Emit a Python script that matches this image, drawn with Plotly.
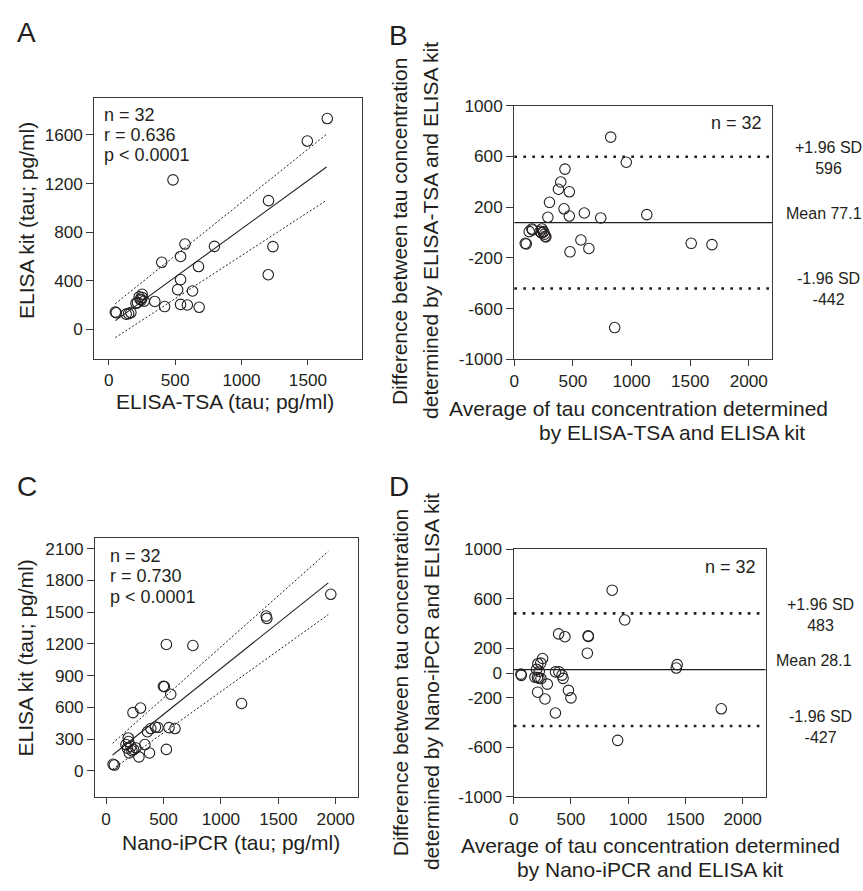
import plotly.graph_objects as go

W, H = 863, 891
FONT = "Liberation Sans, Arial, Helvetica, sans-serif"
TC = "#231f20"
LC = "#3a3a3a"

# ---------------- Panel A: ELISA-TSA vs ELISA kit ----------------
a_tsa = [50, 57, 132, 167, 217, 237, 252, 252, 267, 347, 421, 541, 592, 681, 519, 631,
         541, 676, 399, 541, 574, 796, 484, 1203, 1236, 1201, 1495, 1645, 230, 245, 205, 150]
a_kit = [142, 137, 126, 139, 220, 247, 289, 263, 233, 230, 188, 206, 201, 182, 327, 316,
         410, 517, 552, 600, 702, 683, 1230, 1059, 681, 450, 1549, 1734, 268, 240, 215, 130]
a_fit_x = [50, 1640]
a_fit_y = [72, 1335]
a_upper_y = [212, 1605]
a_lower_y = [-67, 1062]
a_stats = ["n = 32", "r = 0.636", "p < 0.0001"]
a_xticks = [0, 500, 1000, 1500]
a_yticks = [0, 400, 800, 1200, 1600]

# ---------------- Panel B: Bland-Altman ELISA-TSA / ELISA kit ----------------
b_avg = [822, 955, 856, 432, 396, 376, 469, 300, 424, 286, 469, 597, 737, 1130, 568, 636,
         475, 1509, 1686, 93, 102, 127, 150, 155, 235, 249, 257, 269, 230, 220, 246, 263]
b_diff = [751, 553, -750, 499, 397, 340, 320, 237, 186, 119, 129, 153, 114, 140, -60, -127,
          -153, -86, -96, -86, -91, 6, 27, 19, 27, 6, -14, -35, -3, 8, 1, -30]
b_mean = 77.1
b_upper = 596
b_lower = -442

# ---------------- Panel C: Nano-iPCR vs ELISA kit ----------------
c_ipcr = [1957, 1394, 1400, 525, 756, 1180, 499, 508, 563, 300, 234, 360, 390, 430, 452, 548,
          600, 525, 338, 378, 286, 193, 173, 202, 260, 216, 72, 61, 196, 240, 225, 185]
c_kit = [1669, 1463, 1441, 1195, 1185, 637, 800, 796, 724, 594, 551, 370, 400, 414, 410, 409,
         400, 203, 249, 169, 132, 311, 249, 169, 216, 231, 55, 62, 277, 200, 190, 215]
c_fit_x = [57, 1935]
c_fit_y = [150, 1777]
c_upper_y = [261, 2075]
c_lower_y = [15, 1477]
c_stats = ["n = 32", "r = 0.730", "p < 0.0001"]
c_xticks = [0, 500, 1000, 1500, 2000]
c_yticks = [0, 300, 600, 900, 1200, 1500, 1800, 2100]

# ---------------- Panel D: Bland-Altman Nano-iPCR / ELISA kit ----------------
d_avg = [1813, 1428, 1420, 860, 970, 908, 650, 652, 643, 447, 392, 365, 395, 422, 431, 478,
         500, 364, 293, 273, 209, 252, 211, 185, 238, 223, 63, 66, 236, 220, 207, 200]
d_diff = [-288, 69, 41, 670, 429, -543, 301, 296, 161, 294, 317, 10, 10, -16, -42, -139,
          -200, -322, -89, -209, -154, 118, 76, -33, -44, 15, -8, -18, 81, -40, -35, 30]
d_mean = 28.1
d_upper = 483
d_lower = -427

ba_xticks = [0, 500, 1000, 1500, 2000]
b_yticks = [-1000, -600, -200, 200, 600, 1000]
b_yticktext = ["-1000", "-600", "-200", "200", "600", "1000"]
d_yticks = [-1000, -600, -200, 0, 200, 600, 1000]
d_yticktext = ["-1000", "-600", "-200", "0", "200", "600", "1000"]


def dom_x(l, r):
    return [l / W, r / W]


def dom_y(t, b):
    return [1 - b / H, 1 - t / H]


def axis(domain, rng, tickvals, ticktext=None, anchor=None, ticklen=7):
    d = dict(domain=domain, range=rng, tickmode="array", tickvals=tickvals,
             ticks="outside", ticklen=ticklen, tickwidth=1.2, tickcolor=LC,
             showline=True, linecolor=LC, linewidth=1.3, mirror=True,
             showgrid=False, zeroline=False, anchor=anchor,
             tickfont=dict(size=17.2, color=TC, family=FONT))
    if ticktext is not None:
        d["ticktext"] = ticktext
    return d


fig = go.Figure()

marker = dict(symbol="circle-open", size=10.5, color=TC, line=dict(width=1.1, color=TC))
fitline = dict(color=TC, width=1.1)
bandline = dict(color=TC, width=1, dash="2px,2px")

# A
fig.add_trace(go.Scatter(x=a_fit_x, y=a_upper_y, mode="lines", line=bandline, xaxis="x", yaxis="y"))
fig.add_trace(go.Scatter(x=a_fit_x, y=a_lower_y, mode="lines", line=bandline, xaxis="x", yaxis="y"))
fig.add_trace(go.Scatter(x=a_fit_x, y=a_fit_y, mode="lines", line=fitline, xaxis="x", yaxis="y"))
fig.add_trace(go.Scatter(x=a_tsa, y=a_kit, mode="markers", marker=marker, xaxis="x", yaxis="y"))
# B
fig.add_trace(go.Scatter(x=b_avg, y=b_diff, mode="markers", marker=marker, xaxis="x2", yaxis="y2"))
# C
fig.add_trace(go.Scatter(x=c_fit_x, y=c_upper_y, mode="lines", line=bandline, xaxis="x3", yaxis="y3"))
fig.add_trace(go.Scatter(x=c_fit_x, y=c_lower_y, mode="lines", line=bandline, xaxis="x3", yaxis="y3"))
fig.add_trace(go.Scatter(x=c_fit_x, y=c_fit_y, mode="lines", line=fitline, xaxis="x3", yaxis="y3"))
fig.add_trace(go.Scatter(x=c_ipcr, y=c_kit, mode="markers", marker=marker, xaxis="x3", yaxis="y3"))
# D
fig.add_trace(go.Scatter(x=d_avg, y=d_diff, mode="markers", marker=marker, xaxis="x4", yaxis="y4"))

shapes = []
dotted = dict(color=TC, width=2.7, dash="2.7px,6.3px")
solid = dict(color=TC, width=1.2)
for xr, yr, vals in (("x2 domain", "y2", (b_upper, b_mean, b_lower)),
                     ("x4 domain", "y4", (d_upper, d_mean, d_lower))):
    up, mn, lo = vals
    shapes.append(dict(type="line", xref=xr, yref=yr, x0=0, x1=1, y0=up, y1=up, line=dotted))
    shapes.append(dict(type="line", xref=xr, yref=yr, x0=0, x1=1, y0=mn, y1=mn, line=solid))
    shapes.append(dict(type="line", xref=xr, yref=yr, x0=0, x1=1, y0=lo, y1=lo, line=dotted))

ann = []


def txt(text, px, py, size, xanchor="center", angle=0):
    ann.append(dict(text=text, x=px / W, y=1 - py / H, xref="paper", yref="paper",
                    xanchor=xanchor, yanchor="middle", showarrow=False, textangle=angle,
                    font=dict(size=size, color=TC, family=FONT)))


def lab(text, px, yref, yval, yshift, size=16):
    ann.append(dict(text=text, x=px / W, y=yval, xref="paper", yref=yref,
                    xanchor="center", yanchor="middle", showarrow=False, yshift=yshift,
                    align="center", font=dict(size=size, color=TC, family=FONT)))


# panel letters
txt("A", 21.7, 23, 28)
txt("B", 396, 26, 28)
txt("C", 22, 487, 28)
txt("D", 396.7, 487, 28)

# stats text
for i, s in enumerate(a_stats):
    txt(s, 98, [107, 128, 148.7][i], 18, xanchor="left")
for i, s in enumerate(c_stats):
    txt(s, 103.5, [559, 579.5, 600][i], 18, xanchor="left")
txt("n = 32", 763, 116, 18, xanchor="right")
txt("n = 32", 757.5, 569.5, 18, xanchor="right")

# axis titles
txt("ELISA kit (tau; pg/ml)", 21, 215, 21, angle=-90)
txt("ELISA-TSA (tau; pg/ml)", 221, 400.5, 21)
txt("ELISA kit (tau; pg/ml)", 21, 662.5, 21, angle=-90)
txt("Nano-iPCR (tau; pg/ml)", 227.5, 851.5, 21)

txt("Difference between tau concentration", 397.5, 226, 21, angle=-90)
txt("determined by ELISA-TSA and ELISA kit", 428.5, 226, 21, angle=-90)
txt("Average of tau concentration determined", 637, 407.5, 21)
txt("by ELISA-TSA and ELISA kit", 671, 432, 21)

txt("Difference between tau concentration", 397.5, 687.5, 21, angle=-90)
txt("determined by Nano-iPCR and ELISA kit", 428.5, 687.5, 21, angle=-90)
txt("Average of tau concentration determined", 649, 855, 21)
txt("by Nano-iPCR and ELISA kit", 649, 879, 21)

# Bland-Altman labels
lab("+1.96 SD<br>%d" % b_upper, 828, "y2", b_upper, -1.5)
lab("Mean %.1f" % b_mean, 824, "y2", b_mean, 9)
lab("-1.96 SD<br>%d" % b_lower, 828, "y2", b_lower, -0.5)
lab("+1.96 SD<br>%d" % d_upper, 820, "y4", d_upper, -1.5)
lab("Mean %.1f" % d_mean, 814, "y4", d_mean, 9)
lab("-1.96 SD<br>%d" % d_lower, 820, "y4", d_lower, -1.5)

fig.update_layout(
    width=W, height=H, margin=dict(l=0, r=0, t=0, b=0),
    paper_bgcolor="white", plot_bgcolor="white", showlegend=False,
    font=dict(family=FONT, color=TC),
    xaxis=axis(dom_x(90, 359), [-107, 1906], a_xticks, anchor="y", ticklen=5),
    yaxis=axis(dom_y(90, 357), [-243, 1903], a_yticks, anchor="x"),
    xaxis2=axis(dom_x(512.3, 771.7), [0, 2200], ba_xticks, anchor="y2", ticklen=6),
    yaxis2=axis(dom_y(97.7, 357.3), [-1000, 1000], b_yticks, b_yticktext, anchor="x2"),
    xaxis3=axis(dom_x(90.7, 355.3), [-95, 2196], c_xticks, anchor="y3", ticklen=6),
    yaxis3=axis(dom_y(540, 805.3), [-249, 2202], c_yticks, anchor="x3"),
    xaxis4=axis(dom_x(511.7, 765), [0, 2200], ba_xticks, anchor="y4", ticklen=6),
    yaxis4=axis(dom_y(551.7, 805), [-1000, 1000], d_yticks, d_yticktext, anchor="x4"),
    shapes=shapes, annotations=ann,
)

fig.write_html("out.html", config={"responsive": False, "displayModeBar": False},
               post_script="document.body.style.margin='0';document.body.style.overflow='hidden';")
